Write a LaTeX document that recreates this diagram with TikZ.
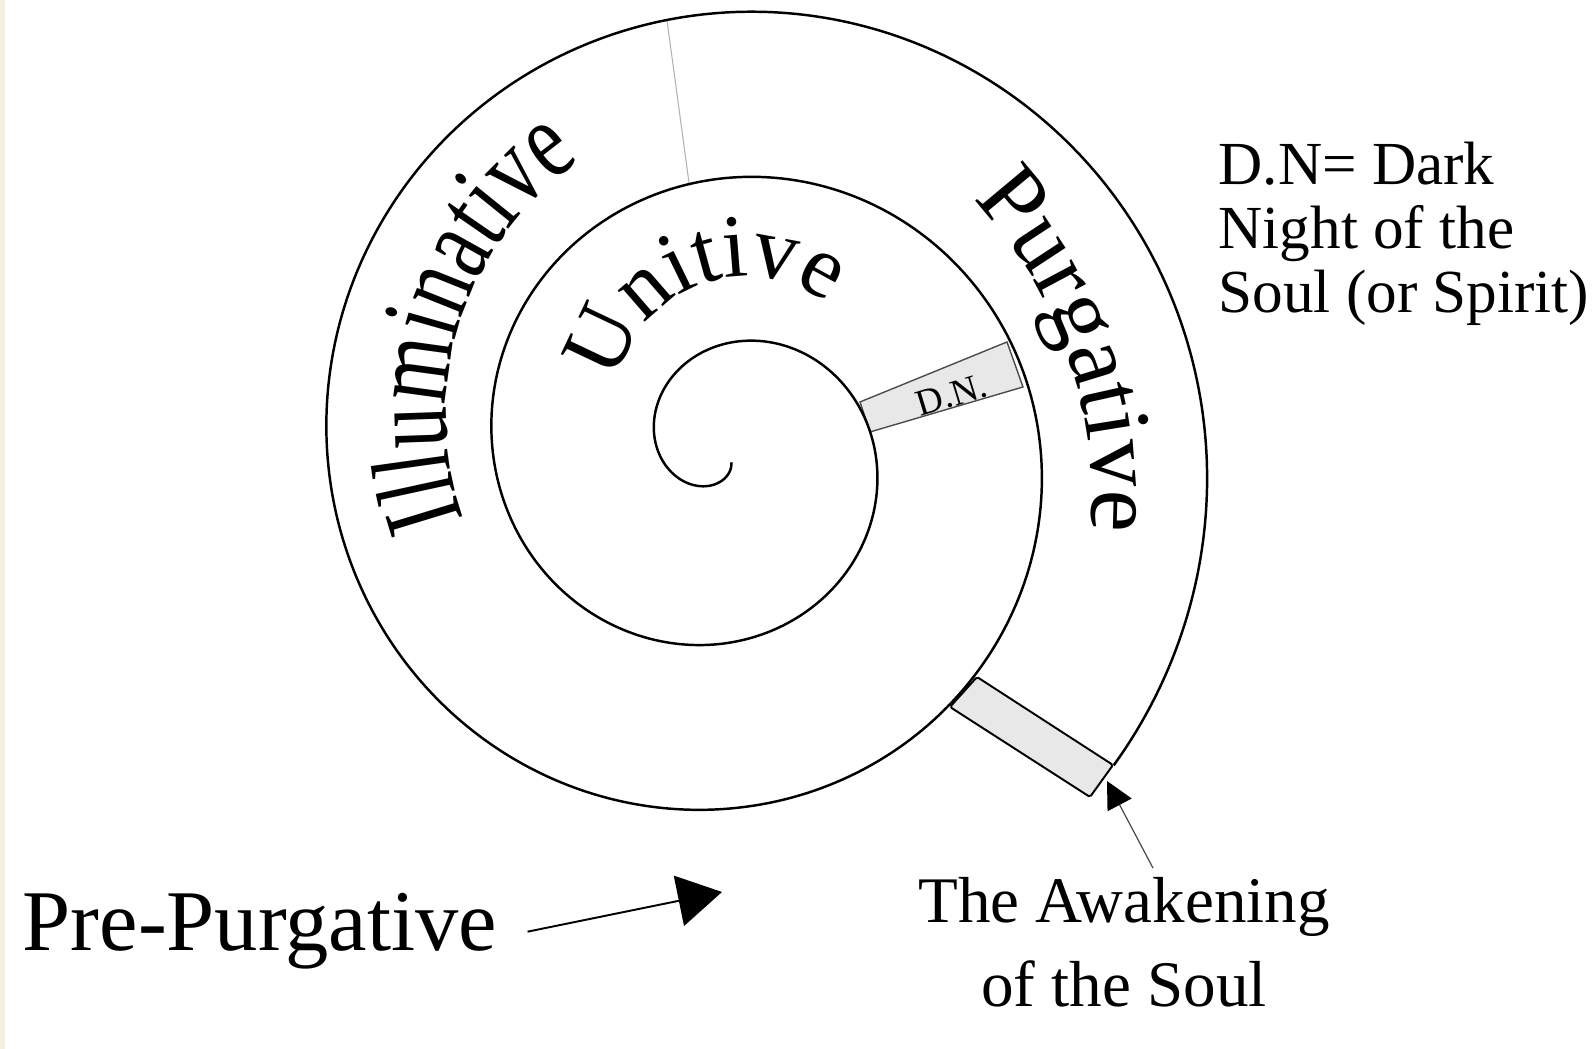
\documentclass[tikz,border=0pt]{standalone}
\usepackage{fontspec}
\setmainfont{Liberation Serif}
\newfontfamily\condensedserif[FakeStretch=0.74]{Liberation Serif}
\usepackage{tikz}
\usetikzlibrary{arrows.meta, positioning, calc, decorations.text}
\definecolor{paper}{RGB}{245,238,220}
\definecolor{bandgray}{RGB}{232,232,232}
\tikzset{
  spiralline/.style={line width=0.7pt, draw=black},
  bandbox/.style={fill=bandgray, draw=black, line width=0.55pt},
  dnbox/.style={fill=bandgray, draw=black!70, line width=0.4pt},
  divider/.style={draw=black!30, line width=0.3pt},
  plainlabel/.style={inner sep=0pt, text=black},
  pointer/.style={-{Triangle[length=0.44cm, width=0.51cm, color=black]},
    line width=0.55pt, draw=black},
  thinpointer/.style={-{Triangle[length=0.27cm, width=0.27cm, color=black]},
    line width=0.35pt, draw=black!70},
  arclabel/.style={decorate,
    decoration={text along path, text align=left, text={#1}}},
}

\begin{document}
\begin{tikzpicture}[x=0.01cm, y=0.01cm]
  \useasboundingbox (0,0) rectangle (1593,1049);
  \fill[paper] (0,0) rectangle (5,1049);
  \coordinate (hub) at (725.4,596.9);

  % shaded bands
  \filldraw[dnbox] (860,647) -- (1007,707) -- (1023,662) -- (870,617) -- cycle;
  \filldraw[bandbox, rounded corners=0.5pt]
    (977,372) -- (1113,284) -- (1090,252) -- (950,342) -- cycle;
  \draw[divider, shift={(hub)}] (97.7:436) -- (97.7:270.5);

  % the spiral
  \draw[spiralline, shift={(hub)}]
    plot[domain=300:-758.9, samples=700, smooth, variable=\a]
    (\a:{67+0.46*(180-\a)});

  % stage names along the turns
  \coordinate (illumhub) at (756.1,633.3);
  \coordinate (unithub) at (747.5,639.3);
  \coordinate (purghub) at (654.5,550.2);
  \path[arclabel={|\condensedserif\fontsize{31.9}{36}\selectfont|Illuminative}]
    ($(illumhub)+(199.5:310)$) arc[start angle=199.5, end angle=100, radius=310];
  \path[arclabel={|\fontsize{25.5}{30}\selectfont|Unitive}]
    ($(unithub)+(168.5:133.2)$) arc[start angle=168.5, end angle=25, radius=133.2];
  \path[arclabel={|\fontsize{27}{32}\selectfont|Purgative}]
    ($(purghub)+(43.3:437.5)$) arc[start angle=43.3, end angle=-15, radius=437.5];

  \node[plainlabel, rotate=17, font=\fontsize{10.5}{12}\selectfont]
    (dnmark) at (951.7,654) {D.N.};

  % legend and pointers
  \node[plainlabel, anchor=base west, align=left,
        font=\fontsize{17.4}{18.2}\selectfont]
    (dnkey) at (1218,736) {D.N= Dark\\Night of the\\Soul (or Spirit)};
  \node[plainlabel, anchor=base west, font=\fontsize{24.6}{29}\selectfont]
    (prelabel) at (22,98) {Pre-Purgative};
  \node[plainlabel, anchor=base, align=center,
        font=\fontsize{18.5}{23.9}\selectfont]
    (awaken) at (1124,42) {The Awakening\\of the Soul};
  \coordinate (pretip) at (722,157);
  \coordinate (awaketip) at (1107,268);
  \draw[pointer] ([xshift=0.3cm]prelabel.east) -- (pretip);
  \draw[thinpointer] ([shift={(0.29cm,0.09cm)}]awaken.north) -- (awaketip);
\end{tikzpicture}
\end{document}
